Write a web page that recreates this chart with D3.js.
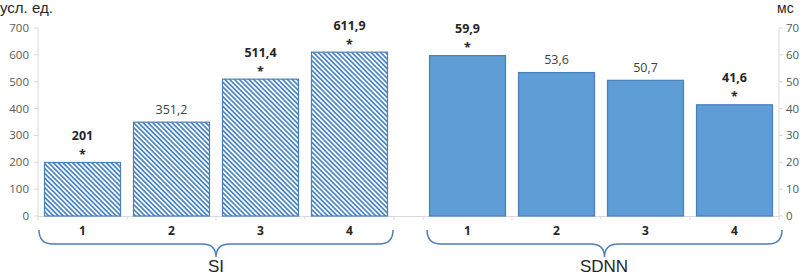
<!DOCTYPE html>
<html>
<head>
<meta charset="utf-8">
<script src="https://cdn.jsdelivr.net/npm/d3@7.9.0/dist/d3.min.js"></script>
<style>
  body { margin: 0; background: #fff; }
  svg { display: block; }
  .tick-label { font-family: "Open Sans", sans-serif; font-size: 11.5px; fill: #595959; }
  .cat-label { font-family: "Open Sans", sans-serif; font-size: 12px; font-weight: bold; fill: #262626; }
  .val-label { font-family: "Open Sans", sans-serif; font-size: 12.5px; fill: #404040; }
  .val-label.bold { font-weight: bold; fill: #262626; }
  .title { font-family: "Liberation Sans", Arial, sans-serif; fill: #262626; }
</style>
</head>
<body>
<svg id="chart" width="803" height="277"></svg>
<script>
const groups = ['1', '2', '3', '4'];
const siValues = [201, 351.2, 511.4, 611.9];
const sdnnValues = [59.9, 53.6, 50.7, 41.6];
const siStars = [true, false, true, true];
const sdnnStars = [true, false, false, true];
const leftTicks = [0, 100, 200, 300, 400, 500, 600, 700];
const rightTicks = [0, 10, 20, 30, 40, 50, 60, 70];

const svg = d3.select('#chart');
const fmt = (d) => String(d).replace('.', ',');

const y0 = 216, y1 = 28;
const yLeft = d3.scaleLinear().domain([0, 700]).range([y0, y1]);
const yRight = d3.scaleLinear().domain([0, 70]).range([y0, y1]);

const xLeft = d3.scaleBand().domain(groups).range([38, 394]).paddingInner(0.135).paddingOuter(0.0675);
const xRight = d3.scaleBand().domain(groups).range([423, 779]).paddingInner(0.135).paddingOuter(0.0675);

// hatch for SI bars
const defs = svg.append('defs');
const pat = defs.append('pattern')
  .attr('id', 'hatch')
  .attr('patternUnits', 'userSpaceOnUse')
  .attr('width', 3.4).attr('height', 3.4)
  .attr('patternTransform', 'rotate(-45)');
pat.append('rect').attr('width', 3.4).attr('height', 3.4).attr('fill', '#fff');
pat.append('rect').attr('width', 1.7).attr('height', 3.4).attr('fill', '#4a86c6');

// axis lines
const axisColor = '#d9d9d9';
svg.append('line').attr('x1', 38).attr('x2', 38).attr('y1', y1).attr('y2', y0).attr('stroke', axisColor);
svg.append('line').attr('x1', 779).attr('x2', 779).attr('y1', y1).attr('y2', y0).attr('stroke', axisColor);
svg.append('line').attr('x1', 38).attr('x2', 779).attr('y1', y0 + 0.5).attr('y2', y0 + 0.5).attr('stroke', axisColor);

svg.selectAll('.lt').data(leftTicks).join('line')
  .attr('x1', 34).attr('x2', 38)
  .attr('y1', (d) => yLeft(d)).attr('y2', (d) => yLeft(d))
  .attr('stroke', axisColor);
svg.selectAll('.rt').data(rightTicks).join('line')
  .attr('x1', 779).attr('x2', 783)
  .attr('y1', (d) => yRight(d)).attr('y2', (d) => yRight(d))
  .attr('stroke', axisColor);

svg.selectAll('text.ll').data(leftTicks).join('text')
  .attr('class', 'tick-label ll')
  .attr('x', 29).attr('y', (d) => yLeft(d) + 4)
  .attr('text-anchor', 'end')
  .text((d) => d);
svg.selectAll('text.rl').data(rightTicks).join('text')
  .attr('class', 'tick-label rl')
  .attr('x', 786).attr('y', (d) => yRight(d) + 4)
  .text((d) => d);

// category tick marks on baseline
const bounds = [38, 394, 423, 779];
groups.forEach((g, i) => {
  if (i > 0) {
    bounds.push(xLeft(g) - xLeft.step() * xLeft.paddingInner() / 2);
    bounds.push(xRight(g) - xRight.step() * xRight.paddingInner() / 2);
  }
});
svg.selectAll('.ct').data(bounds).join('line')
  .attr('x1', (d) => d).attr('x2', (d) => d)
  .attr('y1', y0).attr('y2', y0 + 4)
  .attr('stroke', axisColor);

function drawGroup(name, x, y, values, stars, fill, stroke) {
  const g = svg.append('g').attr('class', name);
  g.selectAll('rect').data(values).join('rect')
    .attr('x', (d, i) => x(groups[i]) + 0.5)
    .attr('y', (d) => y(d) + 0.5)
    .attr('width', x.bandwidth() - 1)
    .attr('height', (d) => y0 - y(d) - 0.5)
    .attr('fill', fill)
    .attr('stroke', stroke)
    .attr('stroke-width', 1.2);

  g.selectAll('text.val').data(values).join('text')
    .attr('class', (d, i) => 'val-label val' + (stars[i] ? ' bold' : ''))
    .attr('x', (d, i) => x(groups[i]) + x.bandwidth() / 2)
    .attr('y', (d, i) => y(d) - (stars[i] ? 22 : 8))
    .attr('text-anchor', 'middle')
    .text((d) => fmt(d));

  g.selectAll('text.star').data(values.filter((d, i) => stars[i])).join('text')
    .attr('class', 'val-label bold star')
    .attr('x', (d) => x(groups[values.indexOf(d)]) + x.bandwidth() / 2)
    .attr('y', (d) => y(d) - 3)
    .attr('text-anchor', 'middle')
    .text('*');

  g.selectAll('text.cat').data(groups).join('text')
    .attr('class', 'cat-label cat')
    .attr('x', (d) => x(d) + x.bandwidth() / 2)
    .attr('y', 235)
    .attr('text-anchor', 'middle')
    .text((d) => d);
}

drawGroup('si', xLeft, yLeft, siValues, siStars, 'url(#hatch)', '#4a7ebb');
drawGroup('sdnn', xRight, yRight, sdnnValues, sdnnStars, '#5f9dd6', '#4a7ebb');

// braces
function brace(xa, xb) {
  const top = 230, mid = 244, tip = 257, r = 14;
  const xm = (xa + xb) / 2;
  return `M${xa},${top} Q${xa},${mid} ${xa + r},${mid} L${xm - r},${mid} Q${xm},${mid} ${xm},${tip}` +
    ` Q${xm},${mid} ${xm + r},${mid} L${xb - r},${mid} Q${xb},${mid} ${xb},${top}`;
}
svg.append('path').attr('d', brace(39, 393)).attr('fill', 'none').attr('stroke', '#4f7fb8').attr('stroke-width', 1.5);
svg.append('path').attr('d', brace(427, 782)).attr('fill', 'none').attr('stroke', '#4f7fb8').attr('stroke-width', 1.5);

svg.append('text').attr('class', 'title').attr('x', 216).attr('y', 272).attr('text-anchor', 'middle')
  .style('font-size', '17px').text('SI');
svg.append('text').attr('class', 'title').attr('x', 604).attr('y', 272).attr('text-anchor', 'middle')
  .style('font-size', '17px').text('SDNN');

svg.append('text').attr('class', 'title').attr('x', 0).attr('y', 13).style('font-size', '15px').text('усл. ед.');
svg.append('text').attr('class', 'title').attr('x', 777).attr('y', 13).style('font-size', '14px').text('мс');
</script>
</body>
</html>
